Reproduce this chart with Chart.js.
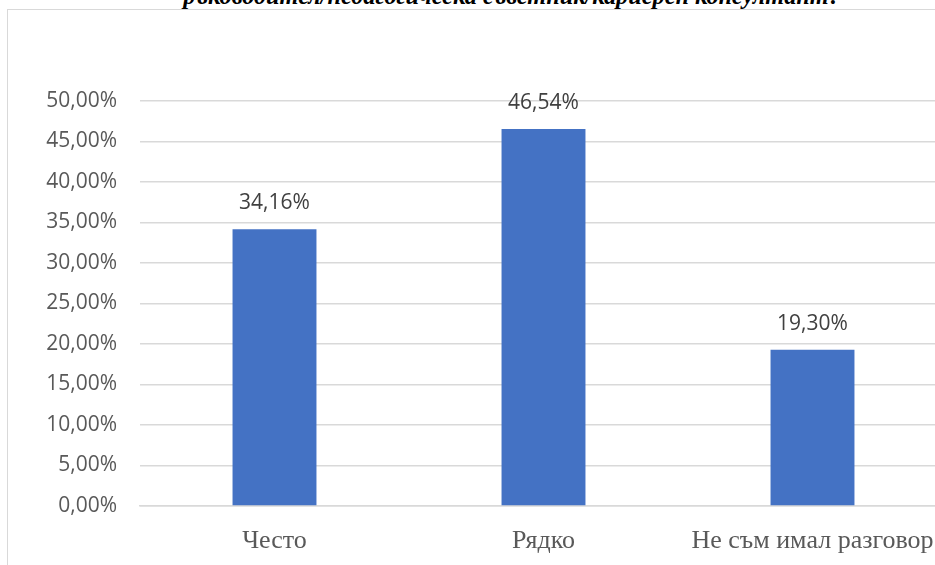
<!DOCTYPE html>
<html>
<head>
<meta charset="utf-8">
<script src="https://cdn.jsdelivr.net/npm/chart.js@4"></script>
<style>
    html, body { margin: 0; padding: 0; background: #fff; overflow: hidden; width: 935px; height: 565px; }
    #title {
        position: absolute; left: 0; width: 1024px; top: -16px; text-align: center;
        font: italic bold 24.3px "Liberation Serif", serif; line-height: 24px; color: #000; white-space: nowrap;
    }
    #frame {
        position: absolute; left: 7px; top: 9px; width: 1000px; height: 600px;
        border: 1px solid #d9d9d9; box-sizing: border-box;
    }
    #chart { position: absolute; left: 0; top: 0; }
</style>
</head>
<body>
<div id="title">ръководител/педагогическа съветник/кариерен консултант?</div>
<div id="frame"></div>
<canvas id="chart" width="960" height="565"></canvas>
<script>
// Chart data
const categories = ['Често', 'Рядко', 'Не съм имал разговор'];
const shares = [34.16, 46.54, 19.30];
const yMax = 50;
const yStep = 5;

function pct(v) {
    return v.toFixed(2).replace('.', ',') + '%';
}

// Value labels above the bars
const barLabels = {
    id: 'barLabels',
    afterDatasetsDraw(chart) {
        const ctx = chart.ctx;
        const meta = chart.getDatasetMeta(0);
        ctx.save();
        ctx.font = '21px "Open Sans", sans-serif';
        ctx.fillStyle = '#404040';
        ctx.textAlign = 'center';
        ctx.textBaseline = 'middle';
        meta.data.forEach(function(bar, i) {
            ctx.fillText(pct(shares[i]), bar.x, bar.y - 26);
        });
        ctx.restore();
    }
};

new Chart(document.getElementById('chart'), {
    type: 'bar',
    data: {
        labels: categories,
        datasets: [{
            data: shares,
            backgroundColor: '#4472C4',
            categoryPercentage: 1,
            barPercentage: 0.312
        }]
    },
    options: {
        responsive: false,
        animation: false,
        layout: { padding: { left: 0, right: 13, top: 101, bottom: 0 } },
        plugins: {
            legend: { display: false },
            tooltip: { enabled: false }
        },
        scales: {
            y: {
                min: 0,
                max: yMax,
                afterFit: function(scale) { scale.width = 140; },
                border: { display: false },
                grid: { color: '#d9d9d9', lineWidth: 1.5, drawTicks: false },
                ticks: {
                    stepSize: yStep,
                    padding: 23,
                    color: '#595959',
                    font: { family: '"Open Sans", sans-serif', size: 21 },
                    callback: function(v) { return pct(v); }
                }
            },
            x: {
                afterFit: function(scale) { scale.height = 59; },
                border: { color: '#d9d9d9', width: 1.5 },
                grid: { display: false, drawTicks: false },
                ticks: {
                    autoSkip: false,
                    maxRotation: 0,
                    padding: 20,
                    color: '#595959',
                    font: { family: '"Liberation Serif", serif', size: 26 }
                }
            }
        }
    },
    plugins: [barLabels]
});
</script>
</body>
</html>
